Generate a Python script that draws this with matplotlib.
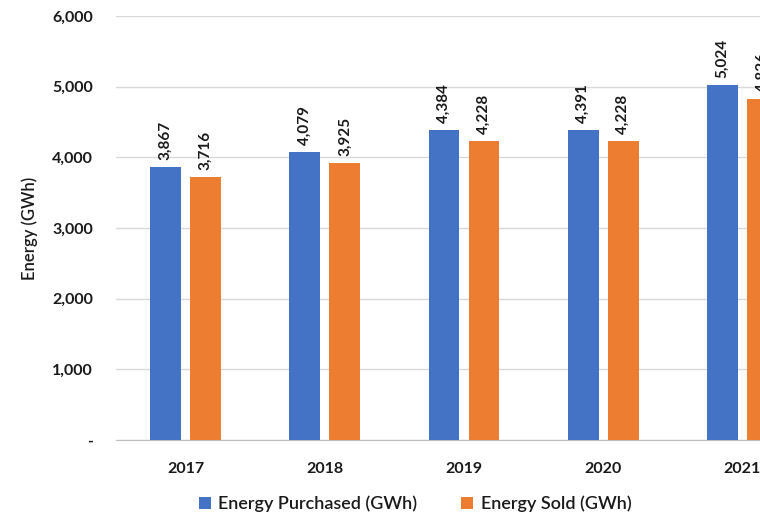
import matplotlib
matplotlib.use("Agg")
import matplotlib.pyplot as plt
import numpy as np
from matplotlib.ticker import FuncFormatter

years = ["2017", "2018", "2019", "2020", "2021"]
purchased = [3867, 4079, 4384, 4391, 5024]
sold = [3716, 3925, 4228, 4228, 4826]
series_names = ["Energy Purchased (GWh)", "Energy Sold (GWh)"]
colors = ["#4472C4", "#ED7D31"]

plt.rcParams['font.family'] = ['Lato', 'DejaVu Sans']

fig = plt.figure(figsize=(7.6, 5.13), dpi=100)
ax = fig.add_axes([116/760, 73/513, 696/760, 424/513])

x = np.arange(len(years))
w = 0.222
off = 0.144
b1 = ax.bar(x - off, purchased, w, color=colors[0], label=series_names[0], zorder=3)
b2 = ax.bar(x + off, sold, w, color=colors[1], label=series_names[1], zorder=3)

for bars, vals in ((b1, purchased), (b2, sold)):
    for r, v in zip(bars, vals):
        ax.annotate(f"{v:,}", (r.get_x() + r.get_width()/2, v), xytext=(0, 5),
                    textcoords="offset points", rotation=90, ha="center", va="bottom",
                    fontsize=11, fontweight="bold", color="#1a1a1a")

ax.set_xlim(-0.5, len(years) - 0.5)
ax.set_ylim(0, 6000)
ax.set_yticks(range(0, 6001, 1000))
ax.yaxis.set_major_formatter(FuncFormatter(lambda v, p: "-" if v == 0 else f"{int(v):,}"))
ax.set_xticks(x)
ax.set_xticklabels(years)
ax.grid(axis="y", color="#D9D9D9", linewidth=1, zorder=0)
for s in ["top", "right", "left"]:
    ax.spines[s].set_visible(False)
ax.spines["bottom"].set_color("#BFBFBF")
ax.tick_params(axis="both", length=0, labelsize=11.5, colors="#1a1a1a")
ax.tick_params(axis="x", pad=16)
ax.tick_params(axis="y", pad=16.5)
for lab in ax.get_xticklabels() + ax.get_yticklabels():
    lab.set_fontweight("bold")
ax.set_ylabel("Energy (GWh)", fontsize=12, color="#1a1a1a", fontweight="semibold")
ax.yaxis.set_label_coords((38 - 116) / 696, 0.5)

fig.legend(handles=[b1, b2], labels=series_names, loc="center", bbox_to_anchor=(415/760, 9/513),
           ncol=2, frameon=False, prop={"size": 13, "weight": "semibold"},
           handlelength=0.7, handleheight=0.7, columnspacing=2.4, handletextpad=0.4)
for t in fig.legends[0].get_texts():
    t.set_color("#1a1a1a")

fig.savefig("out.png", dpi=100)
